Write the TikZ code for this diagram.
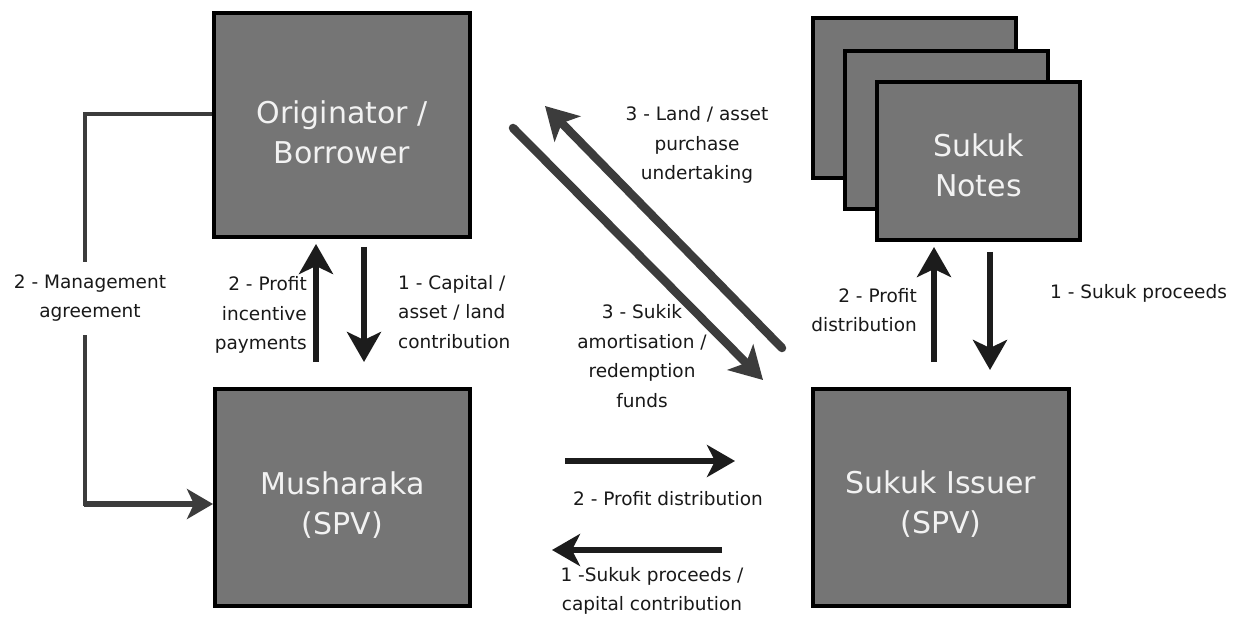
\documentclass[tikz,border=0pt]{standalone}
\usepackage{fontspec}
\setmainfont{DejaVu Sans}
\usetikzlibrary{arrows.meta}
\definecolor{boxgray}{HTML}{757575}
\definecolor{diaggray}{HTML}{3C3C3C}
\definecolor{arrblack}{HTML}{1C1C1C}
\definecolor{txtwhite}{HTML}{F2F2F2}
\begin{document}
\begin{tikzpicture}[x=1pt,y=-1pt,
  box/.style={draw=black,line width=4pt,fill=boxgray,inner sep=0pt},
  boxtext/.style={text=txtwhite,align=center,inner sep=0pt,font=\fontsize{30}{40}\selectfont},
  lbl/.style={inner sep=0pt,font=\fontsize{18.5}{29.5}\selectfont,text=black!90},
  blk/.style={draw=arrblack,line width=6.5pt,-{Stealth[length=30pt,width=34pt,inset=8pt]}},
  hor/.style={draw=arrblack,line width=6pt,-{Stealth[length=28pt,width=32pt,inset=8pt]}},
  diag/.style={draw=diaggray,line width=8.5pt,line cap=round,-{Stealth[length=32pt,width=36pt,inset=8pt]}},
  mgline/.style={draw=diaggray,line width=3.5pt},
]
\useasboundingbox (0,0) rectangle (1238,617);
\fill[white] (0,0) rectangle (1238,617);

% boxes
\node[box,minimum width=256pt,minimum height=224pt,
  label={[boxtext,yshift=-7pt]center:Originator /\\Borrower}] (orig) at (342,125) {};
\node[box,minimum width=255pt,minimum height=217pt,
  label={[boxtext,yshift=-8pt]center:Musharaka\\(SPV)}] (mush) at (342.5,497.5) {};
\node[box,minimum width=256pt,minimum height=217pt,
  label={[boxtext,yshift=-7pt]center:Sukuk Issuer\\(SPV)}] (issuer) at (941,497.5) {};
\node[box,minimum width=203pt,minimum height=160pt] (noteA) at (914,98) {};
\node[box,minimum width=203pt,minimum height=158pt] (noteB) at (946.5,130) {};
\node[box,minimum width=203pt,minimum height=158pt,
  label={[boxtext,yshift=-4pt]center:Sukuk\\Notes}] (notes) at (978.5,161.5) {};

% labels
\node[lbl,align=center] (lmg) at (90,298) {2 - Management\\agreement};
\node[lbl,align=right,anchor=east] (lpi) at (307,315) {2 - Profit\\incentive\\payments};
\node[lbl,align=left,anchor=west] (lcap) at (398,312) {1 - Capital /\\asset / land\\contribution};
\node[lbl,align=center] (lland) at (697,145) {3 - Land / asset\\purchase\\undertaking};
\node[lbl,align=center] (lsuk) at (642,356) {3 - Sukik\\amortisation /\\redemption\\funds};
\node[lbl,align=right,anchor=east] (lpd) at (917,310) {2 - Profit\\distribution};
\node[lbl,anchor=west] (lsp) at (1050,293) {1 - Sukuk proceeds};
\node[lbl] (lpd2) at (668,499) {2 - Profit distribution};
\node[lbl,align=center] (lcc) at (652,591) {1 -Sukuk proceeds /\\capital contribution};

% coordinates for free ends
\coordinate (mgTop) at (85,262);
\coordinate (mgBot) at (85,335);
\coordinate (upS) at (316,362);
\coordinate (upE) at (316,244);
\coordinate (dnS) at (364,247);
\coordinate (dnE) at (364,362);
\coordinate (nUpS) at (934,362);
\coordinate (nUpE) at (934,247);
\coordinate (nDnS) at (990,252);
\coordinate (nDnE) at (990,370);
\coordinate (rS) at (565,461);
\coordinate (rE) at (735,461);
\coordinate (lS) at (722,550);
\coordinate (lE) at (552,550);
\coordinate (d1S) at (513,128);
\coordinate (d1E) at (763,380);
\coordinate (d2S) at (782,348);
\coordinate (d2E) at (545,106);

% management agreement
\draw[mgline] ([yshift=11pt]orig.west) -| (mgTop);
\draw[mgline] (mgBot) |- ([yshift=-6.5pt]mush.west -| 150,0);
\draw[draw=diaggray,line width=5.5pt,-{Stealth[length=26pt,width=30pt,inset=7pt]}]
  ([yshift=-6.5pt]mush.west -| 84,0) -- ([yshift=-6.5pt]mush.west);

% vertical arrows
\draw[blk] (upS) -- (upE);
\draw[blk] (dnS) -- (dnE);
\draw[blk] (nUpS) -- (nUpE);
\draw[blk] (nDnS) -- (nDnE);

% horizontal arrows
\draw[hor] (rS) -- (rE);
\draw[hor] (lS) -- (lE);

% diagonal arrows
\draw[diag] (d1S) -- (d1E);
\draw[diag] (d2S) -- (d2E);
\end{tikzpicture}
\end{document}
